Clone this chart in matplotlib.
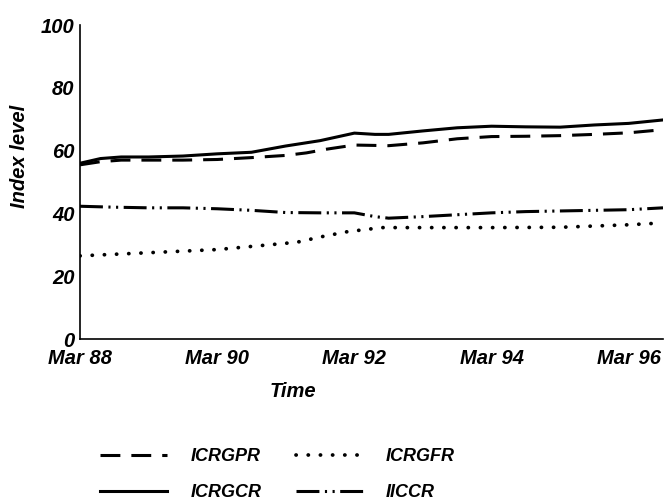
import matplotlib
matplotlib.use("Agg")
import matplotlib.pyplot as plt

# years since Mar 88
t_gcr = [0, 0.3, 0.6, 1.0, 1.5, 2.0, 2.5, 3.0, 3.5, 4.0, 4.3, 4.5, 5.0, 5.5, 6.0, 6.5, 7.0, 7.5, 8.0, 8.5]
icrgcr = [56, 57.5, 58, 58, 58.3, 59, 59.5, 61.5, 63.2, 65.6, 65.2, 65.2, 66.3, 67.3, 67.8, 67.6, 67.5, 68.2, 68.7, 69.8]

t_gpr = [0, 0.3, 0.6, 1.0, 1.5, 2.0, 2.5, 3.0, 3.3, 3.6, 4.0, 4.5, 5.0, 5.5, 6.0, 6.5, 7.0, 7.5, 8.0, 8.5]
icrgpr = [55.5, 56.5, 57, 57, 57, 57.2, 57.8, 58.5, 59.3, 60.5, 61.8, 61.6, 62.5, 63.8, 64.5, 64.6, 64.8, 65.2, 65.7, 66.7]

t_gfr = [0, 0.5, 1.0, 1.5, 2.0, 2.5, 3.0, 3.2, 3.5, 3.9, 4.4, 5.0, 6.0, 7.0, 7.5, 8.0, 8.5]
icrgfr = [26.5, 27, 27.5, 28, 28.5, 29.5, 30.5, 31, 32.5, 34.2, 35.5, 35.5, 35.5, 35.6, 36, 36.4, 37]

t_iccr = [0, 0.5, 1.0, 1.5, 2.0, 2.5, 3.0, 3.5, 4.0, 4.3, 4.5, 5.0, 5.5, 6.0, 6.5, 7.0, 7.5, 8.0, 8.5]
iiccr = [42.3, 42, 41.8, 41.8, 41.5, 41, 40.3, 40.2, 40.2, 39, 38.5, 39, 39.6, 40.2, 40.6, 40.8, 41, 41.2, 41.8]

x_ticks = [0, 2, 4, 6, 8]
x_labels = ["Mar 88", "Mar 90", "Mar 92", "Mar 94", "Mar 96"]
y_ticks = [0, 20, 40, 60, 80, 100]

plt.rcParams["font.family"] = ["Liberation Sans", "DejaVu Sans"]
font = dict(fontsize=14.5, fontweight="bold", fontstyle="italic")

fig = plt.figure(figsize=(6.65, 5.03), dpi=100)
ax = fig.add_axes([0.1203, 0.326, 0.8767, 0.624])

lw = 2.2
ax.plot(t_gpr, icrgpr, color="black", lw=lw, dashes=(6.5, 3.6), label="ICRGPR")
ax.plot(t_gcr, icrgcr, color="black", lw=lw, label="ICRGCR")
ax.plot(t_gfr, icrgfr, color="black", lw=2.7, dashes=(0.05, 3.2),
        dash_capstyle="round", label="ICRGFR")
ax.plot(t_iccr, iiccr, color="black", lw=lw,
        dashes=(7.5, 1.8, 0.7, 1.8, 0.7, 1.8), label="IICCR")

ax.set_xlim(0, 8.5)
ax.set_ylim(0, 100)
ax.set_xticks(x_ticks)
ax.set_xticklabels(x_labels, **font)
ax.set_yticks(y_ticks)
ax.set_yticklabels([str(v) for v in y_ticks], **font)
ax.tick_params(axis="x", length=0, pad=7)
ax.tick_params(axis="y", length=0, pad=4)
for side in ("top", "right"):
    ax.spines[side].set_visible(False)
for side in ("left", "bottom"):
    ax.spines[side].set_linewidth(1.2)

fig.text(0.44, 0.222, "Time", ha="center", va="center", **font)
fig.text(0.030, 0.69, "Index level", rotation=90, ha="center", va="center", **font)

handles, labels = ax.get_legend_handles_labels()
fig.legend(handles, labels, ncol=2, loc="upper left", bbox_to_anchor=(0.137, 0.127),
           frameon=False, borderpad=0, handlelength=3.7, handletextpad=1.3,
           columnspacing=1.9, labelspacing=1.05,
           prop=dict(family=["Liberation Sans", "DejaVu Sans"], size=13,
                     weight="bold", style="italic"))

fig.savefig("out.png", dpi=100)
